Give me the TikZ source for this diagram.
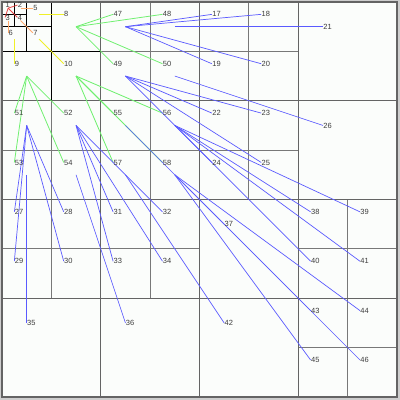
\documentclass[tikz,border=0pt]{standalone}
\usepackage{fontspec}
\setmainfont{Liberation Sans}
\definecolor{bgc}{RGB}{251,253,251}
\definecolor{framec}{RGB}{206,206,206}
\definecolor{gridc}{RGB}{120,120,120}
\definecolor{gridd}{RGB}{100,100,100}
\definecolor{labc}{RGB}{60,60,60}
\definecolor{redc}{RGB}{230,70,70}
\definecolor{orangec}{RGB}{255,170,110}
\definecolor{yellowc}{RGB}{240,240,40}
\definecolor{greenc}{RGB}{110,240,110}
\definecolor{bluec}{RGB}{90,90,255}
\newcommand\qsz{12.34375}
\newcommand\qcell[4]{%
  \coordinate (c#1) at ({2+(#2+#4/2)*\qsz},{2+(#3+#4/2)*\qsz});
  \coordinate (p#1) at ({2+(#2+#4/4)*\qsz},{2+(#3+#4/4)*\qsz});
}
\newcommand\gv[4]{\draw[#1] ({2+#2*\qsz},{2+#3*\qsz}) -- ({2+#2*\qsz},{2+#4*\qsz});}
\newcommand\gh[4]{\draw[#1] ({2+#3*\qsz},{2+#2*\qsz}) -- ({2+#4*\qsz},{2+#2*\qsz});}
\begin{document}
\begin{tikzpicture}[x=1pt,y=-1pt,
  lbl/.style={anchor=west,inner sep=0.3pt,font=\fontsize{7.5}{8}\selectfont,text=labc},
  gk/.style={draw=black,line width=1.2pt},
  gc/.style={draw=gridc,line width=0.9pt},
  gb/.style={draw=gridd,line width=1.1pt},
  ga/.style={draw=gridd,line width=1.8pt},
  rl/.style={draw=redc,line width=0.8pt},
  ol/.style={draw=orangec,line width=0.8pt},
  yl/.style={draw=yellowc,line width=0.8pt},
  gl/.style={draw=greenc,line width=0.8pt},
  bl/.style={draw=bluec,line width=0.7pt}]
\useasboundingbox (0,0) rectangle (400,400);
\fill[framec] (0,0) rectangle (400,400);
\fill[bgc] (2,2) rectangle (397,397);
% grid
\gv{gc}{4}{8}{24} \gh{gc}{4}{8}{24}
\gv{gc}{12}{0}{24} \gh{gc}{12}{0}{24}
\gv{gc}{20}{0}{16} \gh{gc}{20}{0}{16} \gh{gc}{20}{24}{32}
\gv{gc}{28}{16}{32} \gh{gc}{28}{24}{32}
\gv{gb}{8}{0}{32} \gh{gb}{8}{0}{32}
\gv{gb}{24}{0}{32} \gh{gb}{24}{0}{32}
\gv{ga}{16}{0}{32} \gh{ga}{16}{0}{32}
\gv{gk}{1}{0}{2} \gh{gk}{1}{0}{2}
\gv{gk}{2}{0}{4} \gh{gk}{2}{0}{4}
\gv{gk}{4}{0}{8} \gh{gk}{4}{0}{8}
\draw[ga] (2,2) rectangle (397,397);
% cells
\qcell{1}{0}{0}{1} \qcell{2}{1}{0}{1} \qcell{3}{0}{1}{1} \qcell{4}{1}{1}{1}
\qcell{5}{2}{0}{2} \qcell{6}{0}{2}{2} \qcell{7}{2}{2}{2}
\qcell{8}{4}{0}{4} \qcell{9}{0}{4}{4} \qcell{10}{4}{4}{4}
\qcell{47}{8}{0}{4} \qcell{48}{12}{0}{4} \qcell{49}{8}{4}{4} \qcell{50}{12}{4}{4}
\qcell{51}{0}{8}{4} \qcell{52}{4}{8}{4} \qcell{53}{0}{12}{4} \qcell{54}{4}{12}{4}
\qcell{55}{8}{8}{4} \qcell{56}{12}{8}{4} \qcell{57}{8}{12}{4} \qcell{58}{12}{12}{4}
\qcell{17}{16}{0}{4} \qcell{18}{20}{0}{4} \qcell{19}{16}{4}{4} \qcell{20}{20}{4}{4} \qcell{21}{24}{0}{8}
\qcell{22}{16}{8}{4} \qcell{23}{20}{8}{4} \qcell{24}{16}{12}{4} \qcell{25}{20}{12}{4} \qcell{26}{24}{8}{8}
\qcell{27}{0}{16}{4} \qcell{28}{4}{16}{4} \qcell{29}{0}{20}{4} \qcell{30}{4}{20}{4} \qcell{35}{0}{24}{8}
\qcell{31}{8}{16}{4} \qcell{32}{12}{16}{4} \qcell{33}{8}{20}{4} \qcell{34}{12}{20}{4} \qcell{36}{8}{24}{8}
\qcell{37}{16}{16}{8} \qcell{38}{24}{16}{4} \qcell{39}{28}{16}{4} \qcell{40}{24}{20}{4} \qcell{41}{28}{20}{4}
\qcell{42}{16}{24}{8} \qcell{43}{24}{24}{4} \qcell{44}{28}{24}{4} \qcell{45}{24}{28}{4} \qcell{46}{28}{28}{4}
% connectors
\foreach \t in {2,3,4} \draw[rl] (c1) -- (p\t);
\draw[ol] (c2) -- (p5); \draw[ol] (c3) -- (p6); \draw[ol] (c4) -- (p7);
\draw[yl] (c5) -- (p8); \draw[yl] (c6) -- (p9); \draw[yl] (c7) -- (p10);
\foreach \t in {47,48,49,50} \draw[gl] (c8) -- (p\t);
\foreach \t in {51,52,53,54} \draw[gl] (c9) -- (p\t);
\foreach \t in {55,56,57,58} \draw[gl] (c10) -- (p\t);
\foreach \t in {17,18,19,20} \draw[bl] (c47) -- (p\t);
\draw[bl] (c48) -- (p21);
\foreach \t in {22,23,24,25} \draw[bl] (c49) -- (p\t);
\draw[bl] (c50) -- (p26);
\foreach \t in {27,28,29,30} \draw[bl] (c51) -- (p\t);
\foreach \t in {31,32,33,34} \draw[bl] (c52) -- (p\t);
\draw[bl] (c53) -- (p35);
\draw[bl] (c54) -- (p36);
\draw[bl] (c55) -- (p37);
\foreach \t in {38,39,40,41} \draw[bl] (c56) -- (p\t);
\draw[bl] (c57) -- (p42);
\foreach \t in {43,44,45,46} \draw[bl] (c58) -- (p\t);
% labels
\foreach \n in {1,...,10,17,18,...,58} \node[lbl] (l\n) at (p\n) {\n};
\end{tikzpicture}
\end{document}
